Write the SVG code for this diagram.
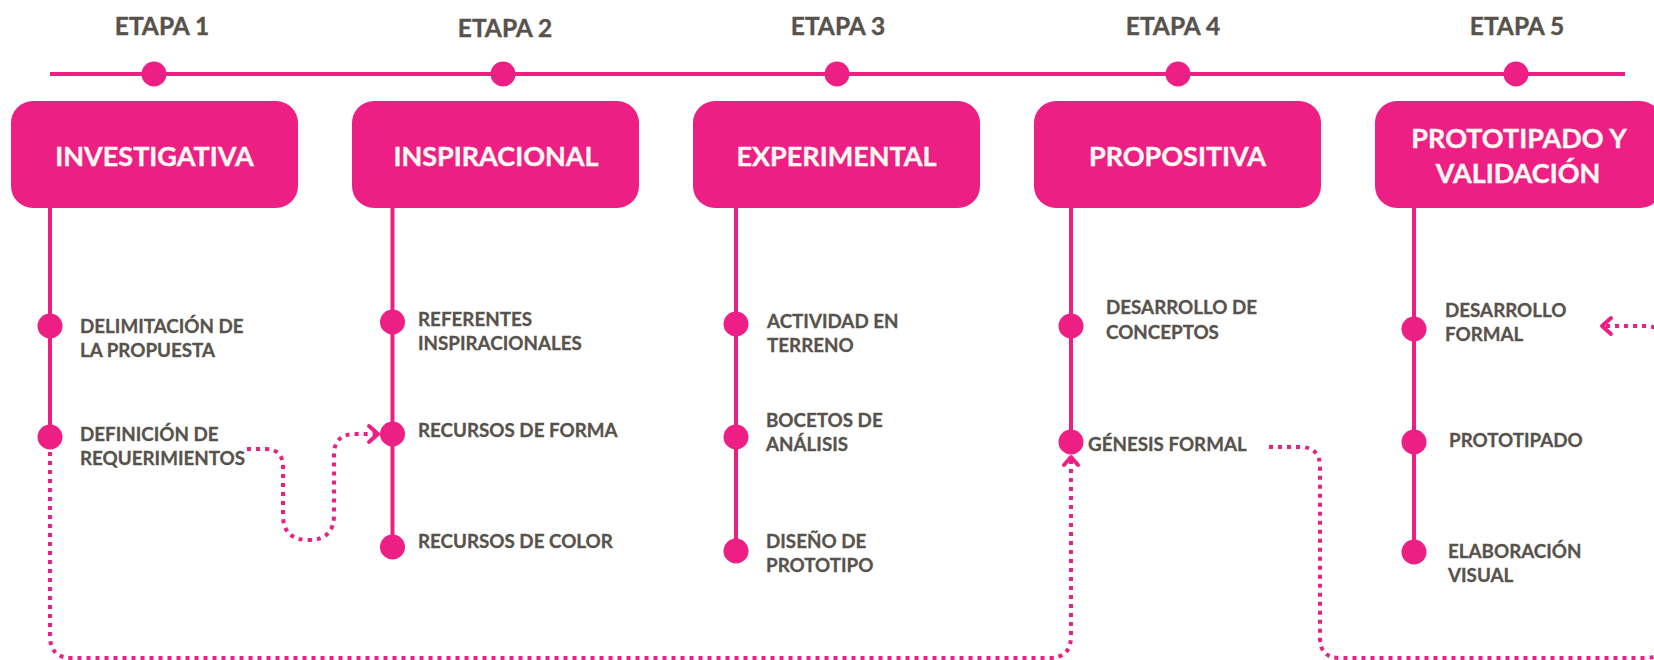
<svg xmlns="http://www.w3.org/2000/svg" width="1654" height="660" viewBox="0 0 1654 660">
<defs>
<style>
.bg{fill:#ffffff}
.pk{fill:#ED1E84}
.ln{stroke:#ED1E84;stroke-width:4;fill:none}
.dot{stroke:#ED1E84;stroke-width:4;fill:none;stroke-dasharray:4 5}
.arr{stroke:#ED1E84;stroke-width:4;fill:none;stroke-linecap:round;stroke-linejoin:round}
.et{font-family:Lato,"Liberation Sans",sans-serif;font-weight:700;font-size:24.5px;fill:#58524C;text-anchor:middle;stroke:#58524C;stroke-width:0.4}
.bx{font-family:Lato,"Liberation Sans",sans-serif;font-weight:700;font-size:27px;fill:#FFF8F0;text-anchor:middle;stroke:#FFF8F0;stroke-width:0.4}
.it{font-family:Lato,"Liberation Sans",sans-serif;font-weight:700;font-size:18.8px;fill:#58524C;stroke:#58524C;stroke-width:0.3}
</style>
</defs>
<rect class="bg" x="0" y="0" width="1654" height="660"/>

<g id="timeline">
<line class="ln" x1="50" y1="74" x2="1625" y2="74"/>
<circle class="pk" cx="154" cy="74" r="12.5"/>
<circle class="pk" cx="503" cy="74" r="12.5"/>
<circle class="pk" cx="837" cy="74" r="12.5"/>
<circle class="pk" cx="1178" cy="74" r="12.5"/>
<circle class="pk" cx="1516" cy="74" r="12.5"/>
<text class="et" x="162" y="35">ETAPA 1</text>
<text class="et" x="505" y="37">ETAPA 2</text>
<text class="et" x="838" y="35">ETAPA 3</text>
<text class="et" x="1173" y="35">ETAPA 4</text>
<text class="et" x="1517" y="35">ETAPA 5</text>
</g>

<g id="connectors">
<path class="dot" d="M 50 452 V 636 Q 50 658 72 658 H 1049 Q 1071 658 1071 636 V 460"/>
<path class="arr" d="M 1064 465 L 1071 457 L 1078 465"/>
<path class="dot" d="M 247 449 H 265 Q 283 449 283 467 V 515 Q 283 540 308.5 540 Q 334 540 334 515 V 455 Q 334 434 355 434 H 376"/>
<path class="arr" d="M 369 426 L 378 434 L 369 442"/>
<path class="dot" d="M 1269 447 H 1300 Q 1320 447 1320 467 V 638 Q 1320 658 1340 658 H 1645 Q 1665 658 1665 638 V 346 Q 1665 326 1645 326 H 1605"/>
<path class="arr" d="M 1611 318 L 1602 326 L 1611 334"/>
</g>

<g id="stage1">
<line class="ln" x1="50" y1="200" x2="50" y2="437"/>
<rect class="pk" x="11" y="101" width="287" height="107" rx="22"/>
<text class="bx" x="154.5" y="166">INVESTIGATIVA</text>
<circle class="pk" cx="50" cy="326" r="12.5"/>
<circle class="pk" cx="50" cy="437" r="12.5"/>
<text class="it" x="80" y="333">DELIMITACIÓN DE<tspan x="80" y="357">LA PROPUESTA</tspan></text>
<text class="it" x="80" y="441">DEFINICIÓN DE<tspan x="80" y="465">REQUERIMIENTOS</tspan></text>
</g>

<g id="stage2">
<line class="ln" x1="392.5" y1="200" x2="392.5" y2="547"/>
<rect class="pk" x="352" y="101" width="287" height="107" rx="22"/>
<text class="bx" x="496" y="166">INSPIRACIONAL</text>
<circle class="pk" cx="392.5" cy="322" r="12.5"/>
<circle class="pk" cx="392.5" cy="434" r="12.5"/>
<circle class="pk" cx="392.5" cy="547" r="12.5"/>
<text class="it" x="418" y="326">REFERENTES<tspan x="418" y="350">INSPIRACIONALES</tspan></text>
<text class="it" x="418" y="437">RECURSOS DE FORMA</text>
<text class="it" x="418" y="548">RECURSOS DE COLOR</text>
</g>

<g id="stage3">
<line class="ln" x1="736" y1="200" x2="736" y2="551"/>
<rect class="pk" x="693" y="101" width="287" height="107" rx="22"/>
<text class="bx" x="836.5" y="166">EXPERIMENTAL</text>
<circle class="pk" cx="736" cy="324" r="12.5"/>
<circle class="pk" cx="736" cy="437" r="12.5"/>
<circle class="pk" cx="736" cy="551" r="12.5"/>
<text class="it" x="767" y="328">ACTIVIDAD EN<tspan x="767" y="352">TERRENO</tspan></text>
<text class="it" x="766" y="427">BOCETOS DE<tspan x="766" y="451">ANÁLISIS</tspan></text>
<text class="it" x="766" y="548">DISEÑO DE<tspan x="766" y="572">PROTOTIPO</tspan></text>
</g>

<g id="stage4">
<line class="ln" x1="1071" y1="200" x2="1071" y2="442"/>
<rect class="pk" x="1034" y="101" width="287" height="107" rx="22"/>
<text class="bx" x="1177.5" y="166">PROPOSITIVA</text>
<circle class="pk" cx="1071" cy="326" r="12.5"/>
<circle class="pk" cx="1071" cy="442" r="12.5"/>
<text class="it" x="1106" y="314">DESARROLLO DE<tspan x="1106" y="339">CONCEPTOS</tspan></text>
<text class="it" x="1088" y="451">GÉNESIS FORMAL</text>
</g>

<g id="stage5">
<line class="ln" x1="1414" y1="200" x2="1414" y2="552"/>
<rect class="pk" x="1375" y="101" width="287" height="107" rx="22"/>
<text class="bx" x="1519" y="148">PROTOTIPADO Y<tspan x="1518" y="183">VALIDACIÓN</tspan></text>
<circle class="pk" cx="1414" cy="329" r="12.5"/>
<circle class="pk" cx="1414" cy="442" r="12.5"/>
<circle class="pk" cx="1414" cy="552" r="12.5"/>
<text class="it" x="1445" y="317">DESARROLLO<tspan x="1445" y="341">FORMAL</tspan></text>
<text class="it" x="1449" y="447">PROTOTIPADO</text>
<text class="it" x="1448" y="558">ELABORACIÓN<tspan x="1448" y="582">VISUAL</tspan></text>
</g>
</svg>
